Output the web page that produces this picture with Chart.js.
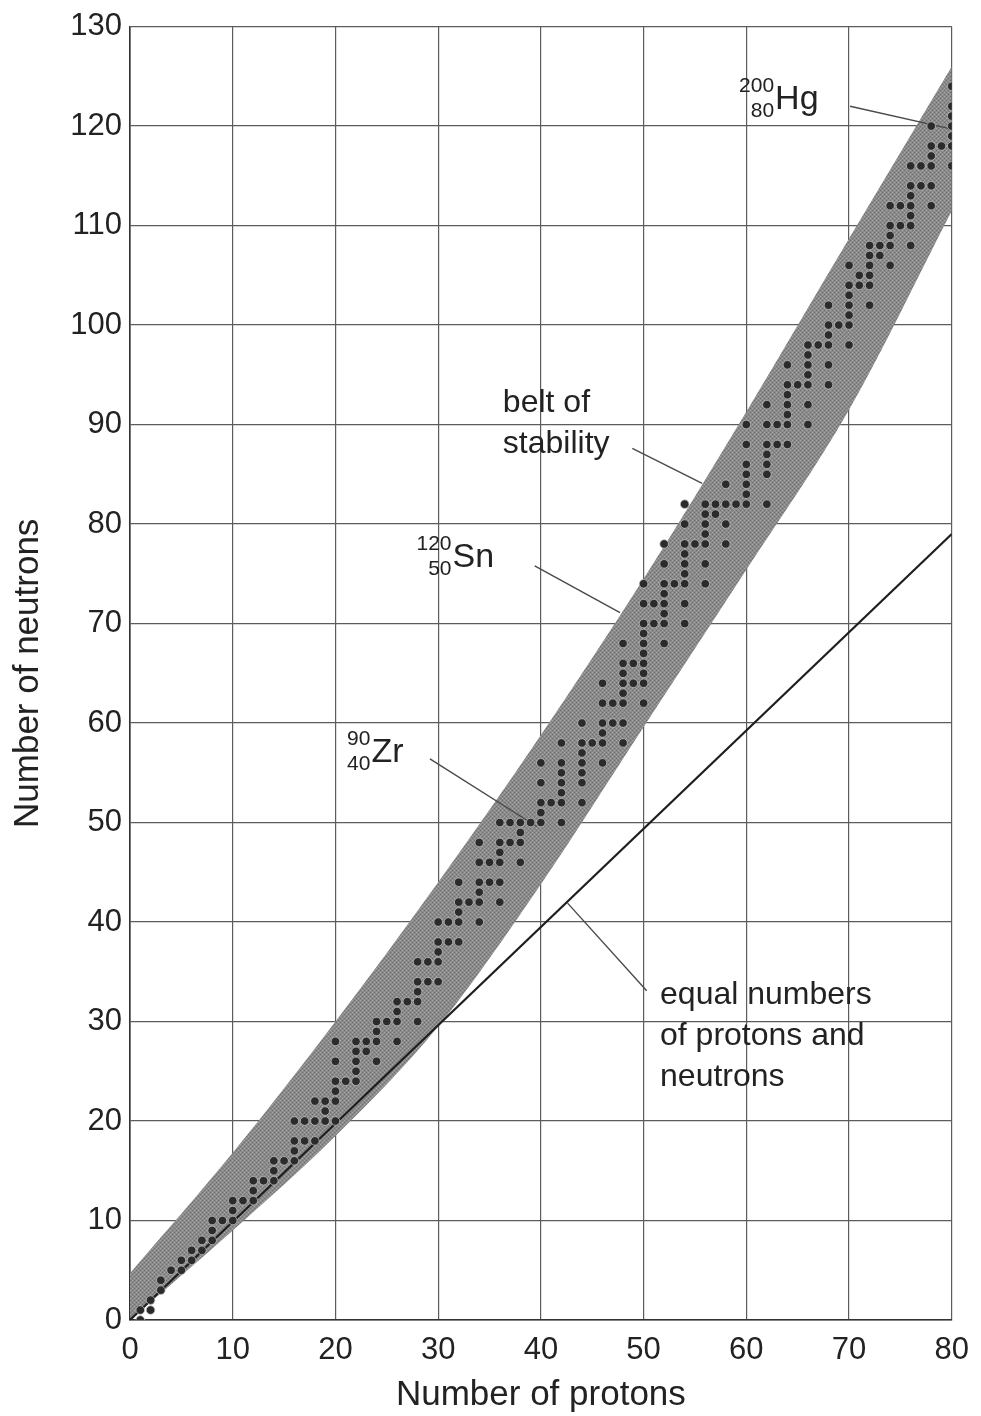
<!DOCTYPE html>
<html>
<head>
  <title>Belt of stability</title>
  <script src="https://cdn.jsdelivr.net/npm/chart.js"></script>
  <style>
    html, body { margin: 0; padding: 0; background: #fff; }
  </style>
</head>
<body>
<canvas id="myChart" width="981" height="1416"></canvas>

<script>
  // x = number of protons (Z), y = number of neutrons (N)
  const protonTicks = [0, 10, 20, 30, 40, 50, 60, 70, 80];
  const neutronTicks = [0, 10, 20, 30, 40, 50, 60, 70, 80, 90, 100, 110, 120, 130];

  // edges of the grey belt, read at every 10 protons
  const beltZ     = [0,   10,   20,   30,   40,   50,   60,   70,    80];
  const beltUpper = [4.7, 16.8, 30.0, 44.0, 58.8, 74.5, 91.3, 108.7, 126];
  const beltLower = [0,   9,    18.5, 29.5, 43.8, 59.6, 75.4, 91.5,  111.5];

  // the N = Z reference line
  const equalZ = [0, 80];
  const equalN = [0, 79];

  // stable nuclides: neutron numbers for each proton number (index = Z)
  const stableN = [
    [],
    [0, 1], [1, 2], [3, 4], [5], [5, 6], [6, 7], [7, 8], [8, 9, 10], [10], [10, 11, 12],
    [12], [12, 13, 14], [14], [14, 15, 16], [16], [16, 17, 18, 20], [18, 20], [18, 20, 22], [20, 21, 22], [20, 22, 23, 24, 26, 28],
    [24], [24, 25, 26, 27, 28], [27, 28], [26, 28, 29, 30], [30], [28, 30, 31, 32], [32], [30, 32, 33, 34, 36], [34, 36], [34, 36, 37, 38, 40],
    [38, 40], [38, 40, 41, 42, 44], [42], [40, 42, 43, 44, 46, 48], [44, 46], [42, 44, 46, 47, 48, 50], [48, 50], [46, 48, 49, 50], [50], [50, 51, 52, 54, 56],
    [52], [50, 52, 53, 54, 55, 56, 58], [], [52, 54, 55, 56, 57, 58, 60], [58], [56, 58, 59, 60, 62, 64], [60, 62], [58, 60, 62, 63, 64, 65, 66, 68], [64, 66], [62, 64, 65, 66, 67, 68, 69, 70, 72, 74],
    [70, 72], [68, 70, 71, 72, 73, 74, 76, 78], [74], [70, 72, 74, 75, 76, 77, 78, 80, 82], [78], [74, 76, 78, 79, 80, 81, 82], [81, 82], [78, 80, 82, 84], [82], [82, 83, 84, 85, 86, 88, 90],
    [], [82, 85, 86, 87, 88, 90, 92], [88, 90], [88, 90, 91, 92, 93, 94, 96], [94], [90, 92, 94, 95, 96, 97, 98], [98], [94, 96, 98, 99, 100, 102], [100], [98, 100, 101, 102, 103, 104, 106],
    [104, 105], [102, 104, 105, 106, 107, 108], [107, 108], [106, 108, 109, 110, 112], [110, 112], [108, 110, 111, 112, 113, 114, 116], [114, 116], [112, 114, 116, 117, 118, 120], [118], [116, 118, 119, 120, 121, 122, 124]
  ];

  // pointer lines from the labels to the belt
  const pointerZ = [[70.1, 80], [48.9, 55.7], [39.4, 47.7], [29.2, 39.6], [42.6, 50.3]];
  const pointerN = [[122.0, 119.7], [87.6, 84.1], [75.8, 71.1], [56.4, 49.6], [41.9, 33.1]];

  // isotope labels: mass number, atomic number, symbol
  const isotopes = [
    { mass: '200', atomic: '80', sym: 'Hg', z: 62.8, n: 121.7 },
    { mass: '120', atomic: '50', sym: 'Sn', z: 31.4, n: 75.7 },
    { mass: '90',  atomic: '40', sym: 'Zr', z: 23.5, n: 56.1 }
  ];
  const notes = [
    { lines: ['belt of', 'stability'], z: 36.3, n: [91.25, 87.1] },
    { lines: ['equal numbers', 'of protons and', 'neutrons'], z: 51.6, n: [31.8, 27.6, 23.5] }
  ];

  const FONT = "'Liberation Sans', Arial, Helvetica, sans-serif";
  const INK = '#222';

  function pts(xs, ys) { return xs.map((x, i) => ({ x: x, y: ys[i] })); }

  // halftone-ish fill for the belt
  function beltPattern() {
    const c = document.createElement('canvas');
    c.width = 4; c.height = 4;
    const g = c.getContext('2d');
    g.fillStyle = '#8a8a8a';
    g.fillRect(0, 0, 4, 4);
    g.fillStyle = '#a6a6a6';
    g.fillRect(0, 0, 1, 1); g.fillRect(2, 2, 1, 1);
    g.fillStyle = '#6f6f6f';
    g.fillRect(2, 0, 1, 1); g.fillRect(0, 2, 1, 1);
    return g.createPattern(c, 'repeat');
  }

  const dots = [];
  stableN.forEach((ns, z) => ns.forEach(n => dots.push({ x: z, y: n })));

  const pointerSets = pointerZ.map((zs, i) => ({
    type: 'line',
    data: pts(zs, pointerN[i]),
    borderColor: '#4a4a4a',
    borderWidth: 1.4,
    pointRadius: 0,
    fill: false,
    order: 2
  }));

  // labels drawn on top of the plot, placed in data units
  const labelPlugin = {
    id: 'labels',
    afterDatasetsDraw(chart) {
      const ctx = chart.ctx;
      const xs = chart.scales.x, ys = chart.scales.y;
      ctx.save();
      ctx.fillStyle = INK;
      ctx.textBaseline = 'alphabetic';

      notes.forEach(nt => {
        ctx.font = '32px ' + FONT;
        ctx.textAlign = 'left';
        nt.lines.forEach((t, i) => ctx.fillText(t, xs.getPixelForValue(nt.z), ys.getPixelForValue(nt.n[i])));
      });

      isotopes.forEach(iso => {
        const x = xs.getPixelForValue(iso.z);
        const y = ys.getPixelForValue(iso.n);
        ctx.font = '34px ' + FONT;
        ctx.textAlign = 'left';
        ctx.fillText(iso.sym, x, y);
        ctx.font = '21px ' + FONT;
        ctx.textAlign = 'right';
        ctx.fillText(iso.mass, x - 1, y - 17);
        ctx.fillText(iso.atomic, x - 1, y + 8);
      });
      ctx.restore();
    }
  };

  const myChart = new Chart(document.getElementById('myChart'), {
    type: 'line',
    data: {
      datasets: [
        {
          label: 'stable nuclides',
          type: 'scatter',
          data: dots,
          pointRadius: 4.3,
          pointBackgroundColor: '#2b2b2b',
          pointBorderColor: 'rgba(200,200,200,0.7)',
          pointBorderWidth: 1,
          order: 0
        },
        ...pointerSets,
        {
          label: 'N = Z',
          data: pts(equalZ, equalN),
          borderColor: '#1e1e1e',
          borderWidth: 2.2,
          pointRadius: 0,
          fill: false,
          order: 3
        },
        {
          label: 'belt upper',
          data: pts(beltZ, beltUpper),
          borderWidth: 0,
          borderColor: 'rgba(0,0,0,0)',
          pointRadius: 0,
          cubicInterpolationMode: 'monotone',
          backgroundColor: beltPattern(),
          fill: '+1',
          order: 4
        },
        {
          label: 'belt lower',
          data: pts(beltZ, beltLower),
          borderWidth: 0,
          borderColor: 'rgba(0,0,0,0)',
          pointRadius: 0,
          cubicInterpolationMode: 'monotone',
          fill: false,
          order: 5
        }
      ]
    },
    options: {
      responsive: false,
      animation: false,
      events: [],
      layout: { padding: { top: 25, right: 29, left: 0, bottom: 0 } },
      plugins: {
        legend: { display: false },
        tooltip: { enabled: false }
      },
      scales: {
        x: {
          type: 'linear',
          min: 0,
          max: 80,
          afterBuildTicks: s => { s.ticks = protonTicks.map(v => ({ value: v })); },
          afterFit: s => { s.height = 96; },
          ticks: { padding: 12, color: INK, font: { family: FONT, size: 31 } },
          grid: { color: '#5c5c5c', lineWidth: 1.2, drawTicks: false },
          border: { color: '#333', width: 1.6 },
          title: {
            display: true,
            text: 'Number of protons',
            color: INK,
            font: { family: FONT, size: 35 },
            padding: { top: 0, bottom: 0 }
          }
        },
        y: {
          type: 'linear',
          min: 0,
          max: 130,
          afterBuildTicks: s => { s.ticks = neutronTicks.map(v => ({ value: v })); },
          afterFit: s => { s.width = 130; },
          ticks: { padding: 8, color: INK, font: { family: FONT, size: 31 } },
          grid: { color: '#5c5c5c', lineWidth: 1.2, drawTicks: false },
          border: { color: '#333', width: 1.6 },
          title: {
            display: true,
            text: 'Number of neutrons',
            color: INK,
            font: { family: FONT, size: 35 },
            padding: { top: 7, bottom: 0 }
          }
        }
      }
    },
    plugins: [labelPlugin]
  });
</script>
</body>
</html>
